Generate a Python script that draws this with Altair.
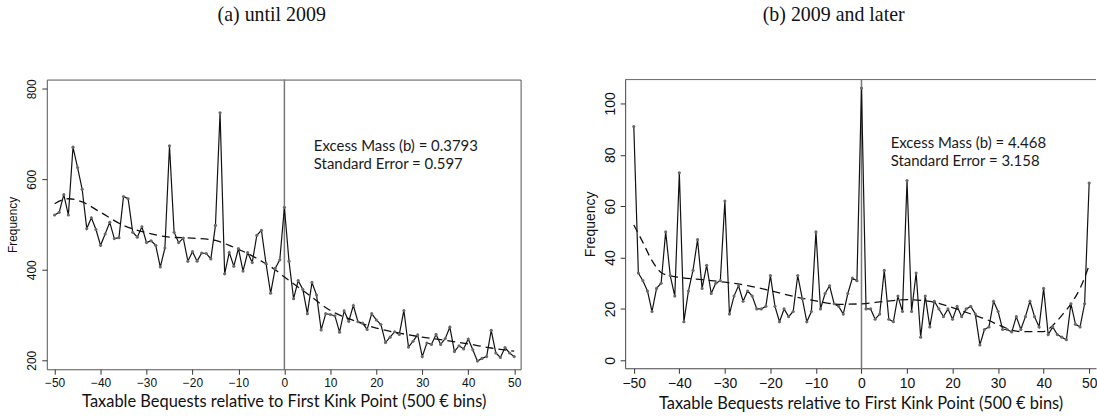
import altair as alt
import pandas as pd

bins = list(range(-50, 51))

freq_a = [521, 527, 566, 521, 671, 626, 578, 491, 515, 489,
          454, 479, 505, 469, 471, 562, 557, 483, 472, 495,
          460, 464, 454, 406, 448, 674, 483, 460, 470, 419,
          440, 419, 437, 436, 424, 498, 747, 391, 438, 408,
          447, 397, 438, 416, 476, 487, 414, 348, 403, 422,
          538,
          419, 336, 376, 357, 303, 372, 344, 267, 303, 301,
          298, 262, 309, 286, 321, 285, 282, 268, 303, 289,
          279, 239, 251, 263, 257, 310, 229, 242, 256, 208,
          238, 235, 257, 235, 248, 273, 219, 232, 225, 247,
          223, 198, 204, 208, 266, 216, 206, 228, 216, 208]

freq_b = [91, 34, 31, 27, 19, 28, 30, 50, 33, 25,
          73, 15, 27, 35, 47, 28, 37, 26, 30, 31,
          62, 18, 25, 29, 23, 27, 25, 20, 20, 21,
          33, 21, 15, 20, 17, 19, 33, 24, 15, 19,
          50, 20, 26, 29, 22, 21, 18, 26, 32, 31,
          106,
          20, 20, 16, 18, 35, 16, 15, 25, 19, 70,
          19, 34, 9, 25, 13, 23, 20, 17, 20, 16,
          21, 17, 20, 21, 18, 6, 12, 13, 23, 19,
          12, 12, 11, 17, 12, 17, 23, 17, 13, 28,
          10, 13, 10, 9, 8, 22, 14, 13, 22, 69]

fit_a_x = [-50, -47, -44, -40, -35, -30, -25, -20, -15, -12, -10, -8, -5, -2, 0,
           5, 10, 15, 20, 25, 30, 35, 40, 45, 50]
fit_a_y = [546, 557, 550, 527, 498, 482, 472, 470, 465, 454, 445, 436, 419, 400, 384,
           347, 310, 288, 271, 260, 251, 244, 236, 227, 220]

fit_b_x = [-50, -48, -46, -44, -42, -40, -35, -30, -25, -20, -15, -10, -5, 0,
           5, 10, 15, 20, 25, 28, 30, 35, 40, 42, 44, 46, 48, 50]
fit_b_y = [52.7, 45.9, 38.8, 34.2, 32.9, 32.3, 31.4, 30.4, 29.1, 27.1, 24.9, 23.1, 21.8, 22.0,
           22.9, 23.6, 22.9, 20.5, 17.4, 15.5, 13.8, 11.2, 11.2, 13.6, 17.5, 22.0, 28.0, 37.0]

x_ticks = list(range(-50, 51, 10))
x_title = "Taxable Bequests relative to First Kink Point (500 € bins)"

SANS = "Liberation Sans"
CAL = "Lato"


def panel(freq, fx, fy, xdom, ydom, yticks, w, h, fs, note, note_x, note_y,
          title, title_dx, boxed):
    df = pd.DataFrame({"bin": bins, "freq": freq})
    fit = pd.DataFrame({"bin": fx, "freq": fy})
    xs = alt.Scale(domain=xdom, nice=False, zero=False)
    ys = alt.Scale(domain=ydom, nice=False, zero=False)
    xax = alt.Axis(values=x_ticks, title=x_title, grid=False, domain=not boxed,
                   domainColor="#444", tickColor="#333", tickSize=5,
                   labelFont=SANS, labelFontSize=fs, labelColor="#111",
                   labelPadding=3, labelFlush=False,
                   titleFont=CAL, titleFontSize=16.5, titleFontWeight="normal",
                   titleColor="#111", titlePadding=5)
    yax = alt.Axis(values=yticks, title="Frequency", grid=False, domain=not boxed,
                   domainColor="#444", tickColor="#333", tickSize=5,
                   labelFont=SANS, labelFontSize=fs, labelColor="#111",
                   labelAngle=-90, labelPadding=3, labelFlush=False,
                   titleFont=SANS, titleFontSize=fs, titleFontWeight="normal",
                   titleColor="#111", titlePadding=6)
    base = alt.Chart(df)
    line = base.mark_line(color="#111", strokeWidth=1.2, clip=True).encode(
        x=alt.X("bin:Q", scale=xs, axis=xax),
        y=alt.Y("freq:Q", scale=ys, axis=yax))
    pts = base.mark_circle(size=10, color="#6a6a6a", opacity=1, clip=True).encode(
        x="bin:Q", y="freq:Q")
    fitl = alt.Chart(fit).mark_line(color="#111", strokeDash=[8, 5], strokeWidth=1.3,
                                    interpolate="monotone", clip=True).encode(
        x="bin:Q", y="freq:Q")
    vline = alt.Chart(pd.DataFrame({"bin": [0]})).mark_rule(
        color="#777", strokeWidth=1.5).encode(x="bin:Q")
    notes = alt.Chart(pd.DataFrame({"bin": [note_x, note_x], "freq": note_y,
                                    "t": note})).mark_text(
        align="left", baseline="middle", font=CAL, fontSize=15, color="#1a1a1a").encode(
        x="bin:Q", y="freq:Q", text="t:N")
    layers = [vline, fitl, line, pts, notes]
    if not boxed:
        top = alt.Chart(pd.DataFrame({"bin": [0]})).mark_rule(
            color="#666", strokeWidth=1).encode(
            x=alt.value(0), x2=alt.value(w), y=alt.value(0))
        layers.append(top)
    ch = alt.layer(*layers).properties(
        width=w, height=h,
        title=alt.TitleParams(title, font="Liberation Serif", fontSize=20,
                              fontWeight="normal", color="#111", anchor="middle",
                              dx=title_dx, offset=54))
    if boxed:
        ch = ch.properties(view=alt.ViewBackground(stroke="#555", strokeWidth=1))
    else:
        ch = ch.properties(view=alt.ViewBackground(stroke=None))
    return ch


left = panel(freq_a, fit_a_x, fit_a_y, [-51.7, 51.4], [180, 820.5], [200, 400, 600, 800],
             476, 291, 12,
             ["Excess Mass (b) = 0.3793", "Standard Error = 0.597"], 6.4, [674, 633],
             "(a) until 2009", -12, True)
right = panel(freq_b, fit_b_x, fit_b_y, [-51.9, 51.5], [-3.1, 109.3],
              [0, 20, 40, 60, 80, 100], 473, 290, 14,
              ["Excess Mass (b) = 4.468", "Standard Error = 3.158"], 6.4, [84.6, 77.5],
              "(b) 2009 and later", -27, False)

chart = alt.hconcat(left, right, spacing=62).properties(
    padding={"left": 6, "top": 3, "right": 0, "bottom": 0}
).configure_view(stroke=None).configure(background="white")

chart.save("out.html", embed_options={"renderer": "svg", "actions": False})
